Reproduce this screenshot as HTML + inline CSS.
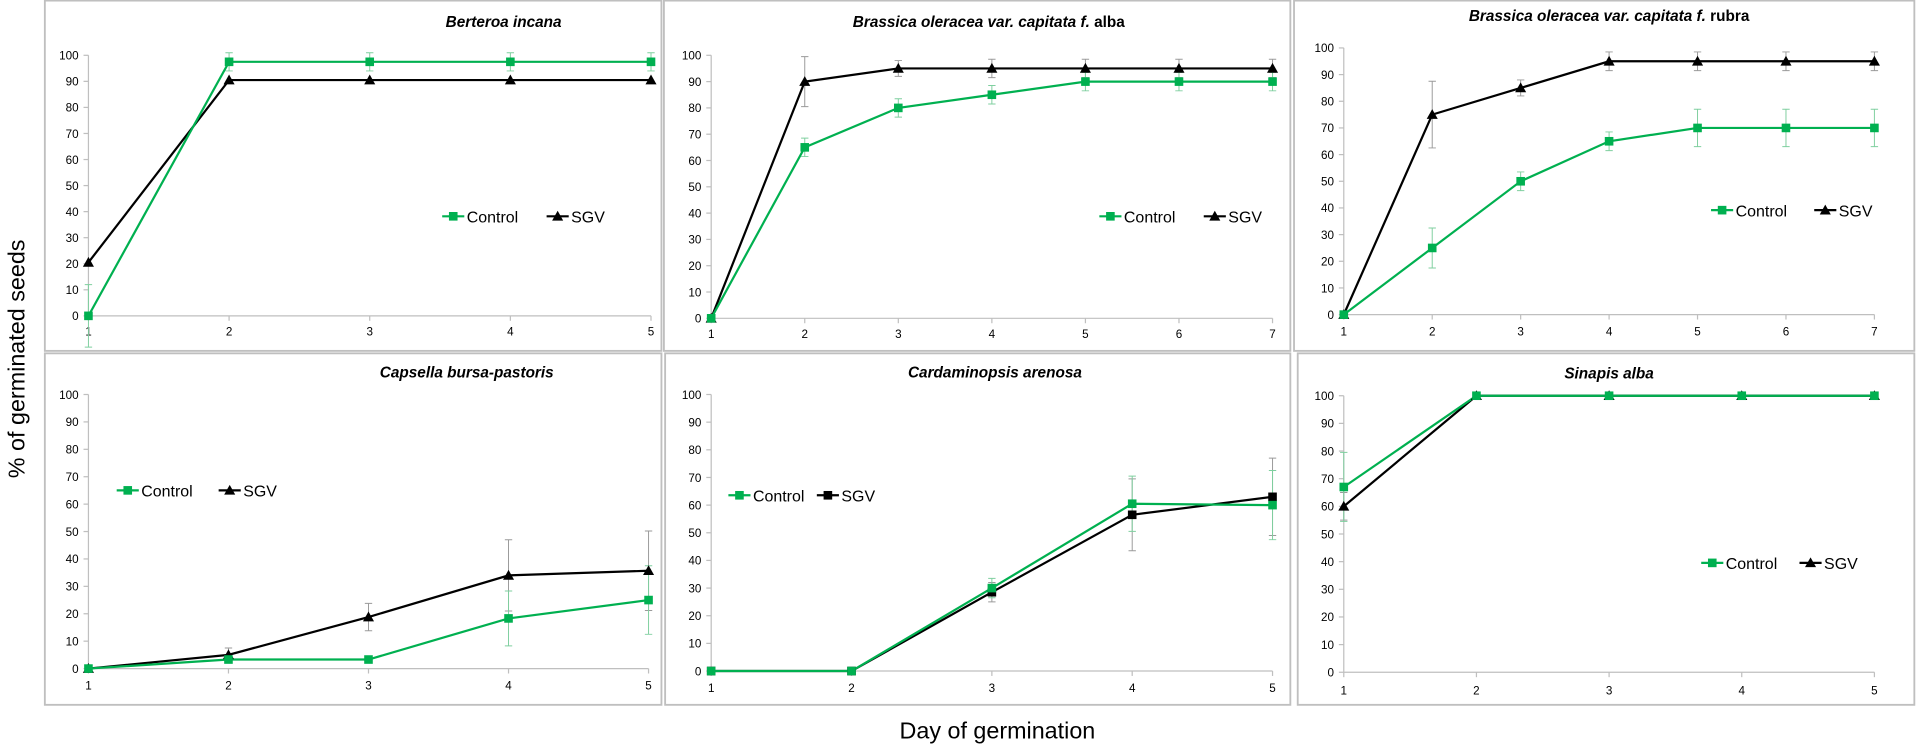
<!DOCTYPE html>
<html><head><meta charset="utf-8"><style>
html,body{margin:0;padding:0;background:#fff;}
svg{display:block;font-family:"Liberation Sans",sans-serif;}
</style></head><body>
<svg id="fig" width="1926" height="746" viewBox="0 0 1568 607" preserveAspectRatio="none" xmlns="http://www.w3.org/2000/svg">
<text transform="translate(20,292) rotate(-90)" text-anchor="middle" font-size="19" fill="#000">% of germinated seeds</text>
<text x="812" y="601" text-anchor="middle" font-size="19" fill="#000">Day of germination</text>
</svg>
<script>
// Panel 1 – Berteroa incana
const p1Days = [1,2,3,4,5];
const p1Control = [0,97.5,97.5,97.5,97.5];
const p1ControlErr = [12,3.5,3.5,3.5,3.5];
const p1Sgv = [20.5,90.5,90.5,90.5,90.5];
const p1SgvErr = [0,0,0,0,0];
// Panel 2 – Brassica alba
const p2Days = [1,2,3,4,5,6,7];
const p2Control = [0,65,80,85,90,90,90];
const p2ControlErr = [0,3.5,3.5,3.5,3.5,3.5,3.5];
const p2Sgv = [0,90,95,95,95,95,95];
const p2SgvErr = [0,9.5,3,3.5,3.5,3.5,3.5];
// Panel 3 – Brassica rubra
const p3Days = [1,2,3,4,5,6,7];
const p3Control = [0,25,50,65,70,70,70];
const p3ControlErr = [0,7.5,3.5,3.5,7,7,7];
const p3Sgv = [0,75,85,95,95,95,95];
const p3SgvErr = [0,12.5,3,3.5,3.5,3.5,3.5];
// Panel 4 – Capsella bursa-pastoris
const p4Days = [1,2,3,4,5];
const p4Control = [0,3.3,3.3,18.3,25];
const p4ControlErr = [0,0,0,10,12.5];
const p4Sgv = [0,5,18.8,34,35.7];
const p4SgvErr = [0,2.5,5,13,14.5];
// Panel 5 – Cardaminopsis arenosa
const p5Days = [1,2,3,4,5];
const p5Control = [0,0,30,60.5,60];
const p5ControlErr = [0,0,3.5,10,12.5];
const p5Sgv = [0,0,28.5,56.5,63];
const p5SgvErr = [0,0,3.5,13,14];
// Panel 6 – Sinapis alba
const p6Days = [1,2,3,4,5];
const p6Control = [67,100,100,100,100];
const p6ControlErr = [12.5,0,0,0,0];
const p6Sgv = [60,100,100,100,100];
const p6SgvErr = [5,0,0,0,0];
const yTicks = [0,10,20,30,40,50,60,70,80,90,100];

const NS = "http://www.w3.org/2000/svg";
const svg = document.getElementById('fig');
const GREEN = "#00b050";
function mk(tag, attrs, parent){
  const e = document.createElementNS(NS, tag);
  for (const k in attrs) e.setAttribute(k, attrs[k]);
  (parent||svg).appendChild(e);
  return e;
}
const panels = [
 {name:'berteroa', title:[['Berteroa incana',1]], box:[36,0,502,285], tx:410, ty:22, ax:72, ax2:530, y0:257, y100:45, lab:270,
  days:p1Days, c:p1Control, ce:p1ControlErr, s:p1Sgv, se:p1SgvErr, leg:[360,176,445], sgvSq:false},
 {name:'brassica-alba', title:[['Brassica oleracea var. capitata f.',1],[' alba',0]], box:[540,0,510,285], tx:805, ty:22, ax:579, ax2:1036, y0:259, y100:45, lab:272,
  days:p2Days, c:p2Control, ce:p2ControlErr, s:p2Sgv, se:p2SgvErr, leg:[895,176,980], sgvSq:false},
 {name:'brassica-rubra', title:[['Brassica oleracea var. capitata f.',1],[' rubra',0]], box:[1053,0,505,285], tx:1310, ty:17, ax:1094, ax2:1526, y0:256, y100:39, lab:270,
  days:p3Days, c:p3Control, ce:p3ControlErr, s:p3Sgv, se:p3SgvErr, leg:[1393,171,1477], sgvSq:false},
 {name:'capsella', title:[['Capsella bursa-pastoris',1]], box:[36,287,502,286], tx:380, ty:307, ax:72, ax2:528, y0:544, y100:321, lab:558,
  days:p4Days, c:p4Control, ce:p4ControlErr, s:p4Sgv, se:p4SgvErr, leg:[95,399,178], sgvSq:false},
 {name:'cardaminopsis', title:[['Cardaminopsis arenosa',1]], box:[541,287,509,286], tx:810, ty:307, ax:579, ax2:1036, y0:546, y100:321, lab:560,
  days:p5Days, c:p5Control, ce:p5ControlErr, s:p5Sgv, se:p5SgvErr, leg:[593,403,665], sgvSq:true},
 {name:'sinapis', title:[['Sinapis alba',1]], box:[1056,287,502,286], tx:1310, ty:308, ax:1094, ax2:1526, y0:547, y100:322, lab:562,
  days:p6Days, c:p6Control, ce:p6ControlErr, s:p6Sgv, se:p6SgvErr, leg:[1385,458,1465], sgvSq:false},
];
function marker(g, x, y, color, square, nameStr){
  let m;
  if (square) m = mk('rect',{x:x-3.5,y:y-3.5,width:7,height:7,fill:color},g);
  else m = mk('path',{d:`M${x},${y-4.5}L${x+4.5},${y+3.5}L${x-4.5},${y+3.5}Z`,fill:color},g);
  
  
  return m;
}
panels.forEach(p=>{
  const g = mk('g',{});
  
  
  const box = mk('rect',{x:p.box[0]+0.5,y:p.box[1]+0.5,width:p.box[2],height:p.box[3],fill:'none',stroke:'#bfbfbf','stroke-width':1.5},g);
  
  
  const t = mk('text',{x:p.tx,y:p.ty,'text-anchor':'middle','font-size':12.5,'font-weight':'bold',fill:'#000'},g);
  
  
  p.title.forEach(([s,it])=>{ const ts=mk('tspan',{'font-style':it?'italic':'normal'},t); ts.textContent=s; });
  const n = p.days.length;
  const xs = d => p.ax + (d - p.days[0]) * (p.ax2 - p.ax) / (p.days[n-1] - p.days[0]);
  const ys = v => p.y0 - v * (p.y0 - p.y100) / 100;
  const ya = mk('line',{x1:p.ax,y1:p.y100,x2:p.ax,y2:p.y0,stroke:'#bfbfbf','stroke-width':1},g);
  
  
  const xa = mk('line',{x1:p.ax,y1:p.y0,x2:p.ax2,y2:p.y0,stroke:'#bfbfbf','stroke-width':1},g);
  
  
  yTicks.forEach(v=>{
    mk('line',{x1:p.ax-4,y1:ys(v),x2:p.ax,y2:ys(v),stroke:'#bfbfbf'},g);
    const tl = mk('text',{x:p.ax-8,y:ys(v)+3.5,'text-anchor':'end','font-size':9.5,fill:'#000'},g);
    tl.textContent = v;
    
    
  });
  p.days.forEach(d=>{
    mk('line',{x1:xs(d),y1:p.y0,x2:xs(d),y2:p.y0+4,stroke:'#bfbfbf'},g);
    const tl = mk('text',{x:xs(d),y:p.lab+3,'text-anchor':'middle','font-size':9.5,fill:'#000'},g);
    tl.textContent = d;
    
    
  });
  function errs(vals, es, color){
    vals.forEach((v,i)=>{
      if (!es[i]) return;
      const x = xs(p.days[i]);
      const eb = mk('path',{d:`M${x},${ys(v-es[i])}V${ys(Math.min(v+es[i],105))}M${x-3},${ys(v-es[i])}h6M${x-3},${ys(Math.min(v+es[i],105))}h6`,stroke:color,'stroke-width':0.8,fill:'none'},g);
      
      
    });
  }
  errs(p.s, p.se, '#9a9a9a');
  errs(p.c, p.ce, '#7fcf9f');
  const sl = mk('polyline',{points:p.s.map((v,i)=>xs(p.days[i])+','+ys(v)).join(' '),fill:'none',stroke:'#000','stroke-width':1.8},g);
  
  
  const cl = mk('polyline',{points:p.c.map((v,i)=>xs(p.days[i])+','+ys(v)).join(' '),fill:'none',stroke:GREEN,'stroke-width':1.8},g);
  
  
  p.s.forEach((v,i)=>marker(g, xs(p.days[i]), ys(v), '#000', p.sgvSq, 'sgv-point'));
  p.c.forEach((v,i)=>marker(g, xs(p.days[i]), ys(v), GREEN, true, 'control-point'));
  const [lx, ly, lx2] = p.leg;
  const lg = mk('g',{},g);
  
  
  mk('line',{x1:lx,y1:ly,x2:lx+18,y2:ly,stroke:GREEN,'stroke-width':1.8},lg);
  marker(lg, lx+9, ly, GREEN, true, 'legend-control-marker');
  const lt1 = mk('text',{x:lx+20,y:ly+5,'font-size':13,fill:'#000'},lg);
  lt1.textContent = 'Control';
  
  
  mk('line',{x1:lx2,y1:ly,x2:lx2+18,y2:ly,stroke:'#000','stroke-width':1.8},lg);
  marker(lg, lx2+9, ly, '#000', p.sgvSq, 'legend-sgv-marker');
  const lt2 = mk('text',{x:lx2+20,y:ly+5,'font-size':13,fill:'#000'},lg);
  lt2.textContent = 'SGV';
  
  
});
</script>
</body></html>
